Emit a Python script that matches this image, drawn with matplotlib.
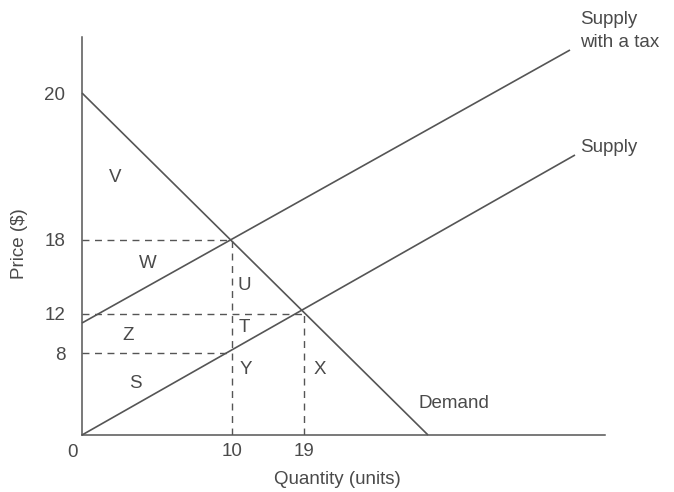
import matplotlib
matplotlib.use("Agg")
from matplotlib import pyplot as plt

plt.rcParams['font.family'] = ['Liberation Sans', 'DejaVu Sans']

# Schematic diagram units (the textbook figure is not drawn to scale)
price_ticks = [342, 195, 121, 82]
price_labels = ["20", "18", "12", "8"]
qty_ticks = [150, 222]
qty_labels = ["10", "19"]

demand_x = [0, 346]
demand_y = [342, 0]
supply_x = [0, 493]
supply_y = [0, 280]
tax_supply_x = [0, 488]
tax_supply_y = [112, 385]

# area letters and their positions
area_names = ["V", "W", "Z", "S", "U", "T", "Y", "X"]
area_x = [33, 66, 46, 53, 162, 162, 164, 238]
area_y = [258, 172, 100, 52, 150, 107, 65, 65]

line_col = "#555555"
text_col = "#4a4a4a"
fs = 13.5

fig = plt.figure(figsize=(6.74, 4.92), dpi=100)
ax = fig.add_axes([82 / 674, 57 / 492, 523 / 674, 398 / 492])
ax.set_xlim(0, 523)
ax.set_ylim(0, 398)

for side in ["top", "right"]:
    ax.spines[side].set_visible(False)
for side in ["left", "bottom"]:
    ax.spines[side].set_color(line_col)
    ax.spines[side].set_linewidth(1.1)

# curves
kw = dict(color=line_col, lw=1.2, clip_on=False, solid_capstyle="butt")
ax.plot(demand_x, demand_y, **kw)
ax.plot(supply_x, supply_y, **kw)
ax.plot(tax_supply_x, tax_supply_y, **kw)

# dashed guides
dkw = dict(color=line_col, lw=1.0, dashes=(5, 4))
ax.plot([0, qty_ticks[0]], [price_ticks[1]] * 2, **dkw)
ax.plot([0, qty_ticks[1]], [price_ticks[2]] * 2, **dkw)
ax.plot([0, qty_ticks[0]], [price_ticks[3]] * 2, **dkw)
ax.plot([qty_ticks[0]] * 2, [0, price_ticks[1]], **dkw)
ax.plot([qty_ticks[1]] * 2, [0, price_ticks[2]], **dkw)

# ticks
ax.set_yticks(price_ticks, price_labels)
ax.set_xticks(qty_ticks, qty_labels)
ax.tick_params(axis="y", length=0, pad=12, labelsize=fs, labelcolor=text_col)
ax.tick_params(axis="x", length=0, pad=6, labelsize=fs, labelcolor=text_col)
ax.text(-10, -9, "0", ha="center", va="top", fontsize=fs, color=text_col)

ax.set_xlabel("Quantity (units)", fontsize=fs, color=text_col)
ax.xaxis.set_label_coords(255 / 523, -36 / 398)
ax.set_ylabel("Price ($)", fontsize=fs, color=text_col)
ax.yaxis.set_label_coords(-54 / 523, 0.48)

# area letters
for name, x, y in zip(area_names, area_x, area_y):
    ax.text(x, y, name, ha="center", va="center", fontsize=fs, color=text_col)

# curve labels
ax.text(498, 404, "Supply\nwith a tax", ha="left", va="center", fontsize=fs,
        color=text_col, linespacing=1.4, clip_on=False)
ax.text(498, 287, "Supply", ha="left", va="center", fontsize=fs, color=text_col)
ax.text(336, 32, "Demand", ha="left", va="center", fontsize=fs, color=text_col)

fig.savefig("out.png", dpi=100)
